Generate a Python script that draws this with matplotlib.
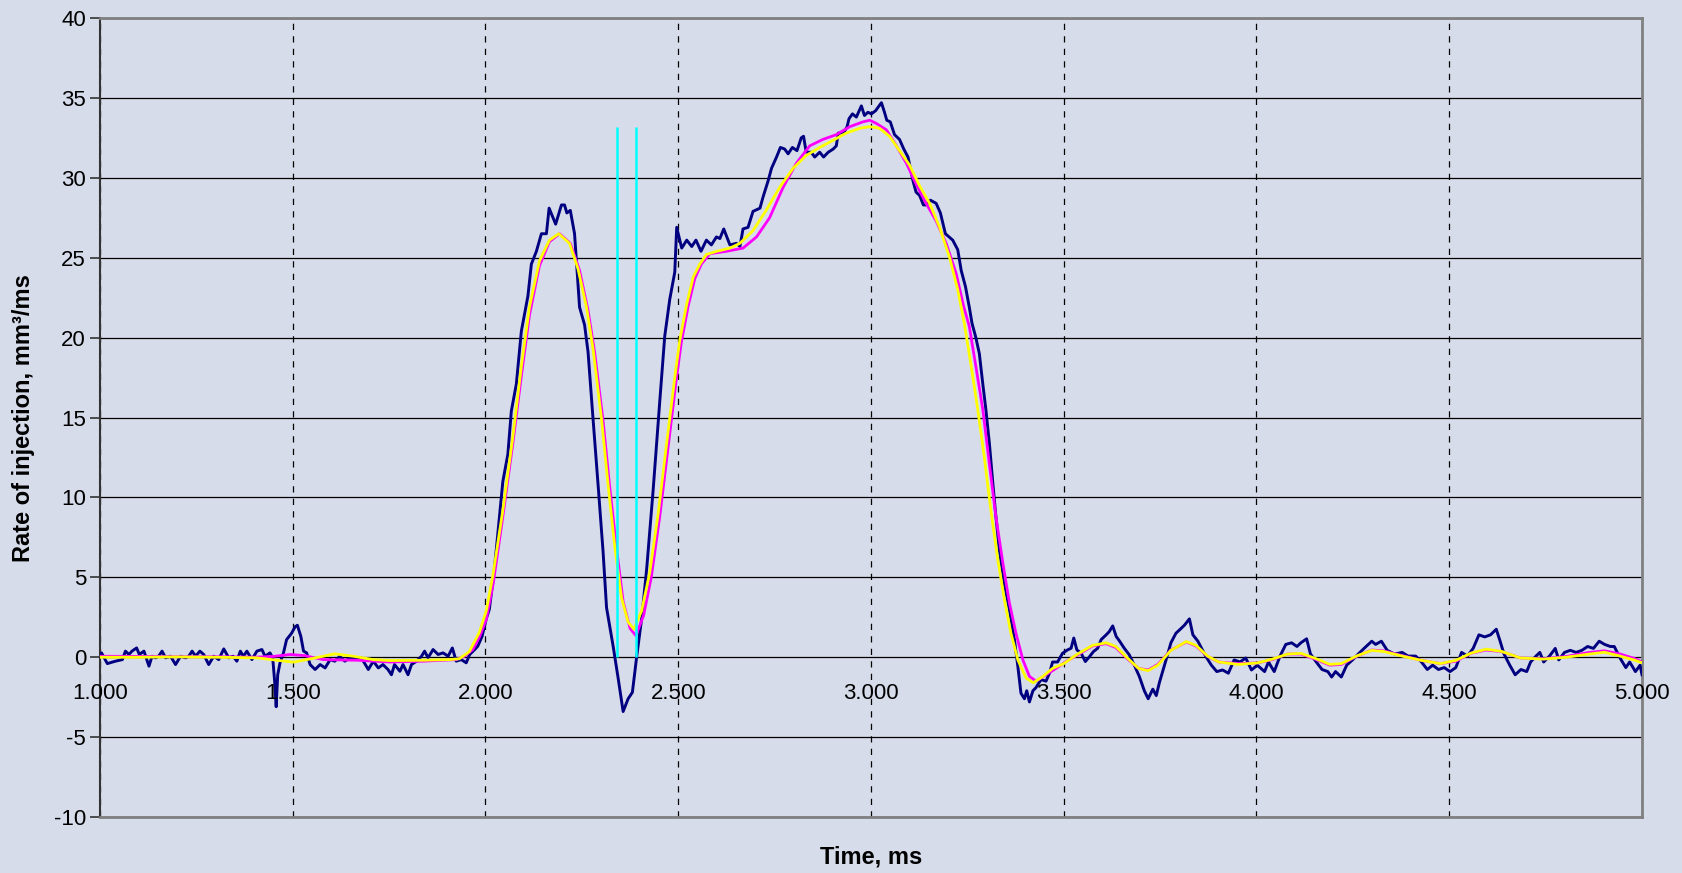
import matplotlib.pyplot as plt
from matplotlib.transforms import blended_transform_factory

plt.rcParams['font.family'] = ['Liberation Sans', 'DejaVu Sans']
plt.rcParams['axes.unicode_minus'] = False

# measured rate (navy)
meas_t = [1.000, 1.004, 1.019, 1.040, 1.058, 1.066, 1.075, 1.083, 1.095, 1.102, 1.114, 1.127, 1.135, 1.144,
          1.152, 1.161, 1.170, 1.183, 1.196, 1.209, 1.222, 1.230, 1.239, 1.248, 1.259, 1.269, 1.282, 1.295,
          1.308, 1.321, 1.334, 1.345, 1.355, 1.364, 1.372, 1.381, 1.394, 1.407, 1.420, 1.428, 1.441, 1.448,
          1.453, 1.457, 1.461, 1.467, 1.476, 1.484, 1.497, 1.506, 1.512, 1.521, 1.528, 1.536, 1.545, 1.558,
          1.571, 1.584, 1.597, 1.609, 1.622, 1.635, 1.648, 1.666, 1.678, 1.696, 1.709, 1.722, 1.734, 1.747,
          1.756, 1.764, 1.778, 1.786, 1.799, 1.808, 1.821, 1.834, 1.842, 1.851, 1.864, 1.877, 1.890, 1.903,
          1.914, 1.924, 1.937, 1.950, 1.959, 1.972, 1.980, 1.991, 2.002, 2.010, 2.023, 2.045, 2.058, 2.067,
          2.080, 2.093, 2.110, 2.119, 2.132, 2.145, 2.158, 2.165, 2.182, 2.197, 2.205, 2.211, 2.220, 2.231,
          2.244, 2.257, 2.266, 2.279, 2.292, 2.305, 2.314, 2.331, 2.344, 2.357, 2.370, 2.381, 2.392, 2.405,
          2.418, 2.435, 2.452, 2.465, 2.478, 2.491, 2.496, 2.509, 2.522, 2.535, 2.546, 2.559, 2.573, 2.586,
          2.599, 2.608, 2.618, 2.634, 2.651, 2.660, 2.668, 2.681, 2.694, 2.712, 2.720, 2.733, 2.742, 2.755,
          2.765, 2.776, 2.785, 2.796, 2.808, 2.819, 2.825, 2.832, 2.845, 2.854, 2.867, 2.877, 2.889, 2.902,
          2.910, 2.915, 2.929, 2.938, 2.943, 2.952, 2.962, 2.975, 2.983, 2.992, 3.001, 3.012, 3.027, 3.035,
          3.041, 3.050, 3.061, 3.074, 3.085, 3.096, 3.109, 3.117, 3.126, 3.136, 3.143, 3.154, 3.169, 3.180,
          3.193, 3.212, 3.225, 3.234, 3.245, 3.255, 3.262, 3.272, 3.281, 3.290, 3.298, 3.307, 3.316, 3.324,
          3.333, 3.346, 3.359, 3.372, 3.381, 3.389, 3.398, 3.404, 3.411, 3.420, 3.428, 3.441, 3.454, 3.463,
          3.471, 3.484, 3.497, 3.510, 3.519, 3.526, 3.534, 3.545, 3.556, 3.567, 3.577, 3.588, 3.597, 3.610,
          3.618, 3.627, 3.636, 3.645, 3.657, 3.670, 3.683, 3.696, 3.709, 3.719, 3.731, 3.740, 3.748, 3.765,
          3.778, 3.791, 3.800, 3.813, 3.826, 3.835, 3.848, 3.868, 3.883, 3.897, 3.912, 3.927, 3.942, 3.957,
          3.972, 3.987, 4.002, 4.021, 4.031, 4.046, 4.061, 4.076, 4.091, 4.105, 4.115, 4.130, 4.140, 4.155,
          4.170, 4.185, 4.195, 4.205, 4.220, 4.234, 4.249, 4.264, 4.279, 4.299, 4.309, 4.324, 4.339, 4.358,
          4.378, 4.393, 4.413, 4.428, 4.443, 4.457, 4.472, 4.487, 4.502, 4.517, 4.532, 4.547, 4.562, 4.577,
          4.592, 4.607, 4.622, 4.632, 4.642, 4.657, 4.671, 4.686, 4.701, 4.711, 4.725, 4.735, 4.745, 4.760,
          4.775, 4.784, 4.799, 4.814, 4.829, 4.844, 4.859, 4.874, 4.889, 4.903, 4.918, 4.928, 4.943, 4.958,
          4.968, 4.983, 4.995, 5.000]
meas_v = [0.17, 0.27, -0.40, -0.25, -0.15, 0.38, 0.17, 0.38, 0.58, 0.17, 0.38, -0.56, 0.06, -0.04,
          0.06, 0.38, -0.04, 0.06, -0.46, 0.06, -0.04, 0.06, 0.38, 0.06, 0.38, 0.17, -0.46, 0.06,
          -0.15, 0.52, -0.04, 0.06, -0.25, 0.38, 0.06, 0.38, -0.15, 0.38, 0.48, 0.06, 0.27, -0.04,
          -1.50, -3.10, -1.10, -0.35, 0.27, 1.10, 1.50, 1.90, 2.00, 1.30, 0.38, 0.27, -0.46, -0.77,
          -0.46, -0.67, -0.15, -0.25, 0.06, -0.25, -0.04, -0.15, -0.04, -0.77, -0.25, -0.67, -0.46, -0.77,
          -1.10, -0.46, -0.88, -0.46, -1.10, -0.46, -0.25, 0.06, 0.38, -0.04, 0.48, 0.17, 0.27, 0.06,
          0.58, -0.25, -0.15, -0.35, 0.17, 0.48, 0.69, 1.30, 2.40, 3.00, 5.50, 11.0, 12.7, 15.4,
          17.1, 20.4, 22.6, 24.6, 25.4, 26.5, 26.5, 28.1, 27.1, 28.3, 28.3, 27.8, 27.96, 26.5,
          21.9, 20.8, 19.1, 14.9, 10.8, 6.6, 3.1, 0.7, -1.3, -3.4, -2.6, -2.2, 0.0, 2.4,
          5.5, 10.5, 16.0, 20.1, 22.4, 24.1, 26.9, 25.6, 26.1, 25.7, 26.1, 25.4, 26.1, 25.8,
          26.3, 26.2, 26.8, 25.8, 25.9, 25.7, 26.8, 26.9, 27.9, 28.1, 28.8, 29.8, 30.6, 31.3,
          31.9, 31.8, 31.5, 31.9, 31.7, 32.5, 32.6, 31.6, 31.6, 31.3, 31.6, 31.3, 31.6, 31.8,
          32.0, 32.8, 32.8, 33.2, 33.7, 34.0, 33.8, 34.5, 33.9, 34.1, 34.0, 34.2, 34.7, 34.1,
          33.6, 33.5, 32.7, 32.4, 31.8, 31.3, 29.8, 29.1, 28.9, 28.3, 28.3, 28.6, 28.4, 27.8,
          26.5, 26.1, 25.5, 24.2, 23.2, 21.9, 20.9, 20.0, 19.0, 17.1, 15.5, 13.4, 10.9, 8.8,
          6.7, 4.6, 3.0, 1.1, -0.6, -2.25, -2.6, -2.1, -2.8, -2.1, -1.9, -1.4, -1.5, -1.0,
          -0.3, -0.3, 0.25, 0.46, 0.56, 1.2, 0.46, 0.25, -0.27, 0.04, 0.35, 0.56, 1.1, 1.4,
          1.6, 1.96, 1.3, 1.0, 0.56, 0.15, -0.5, -1.2, -2.1, -2.6, -2.0, -2.4, -1.6, -0.2,
          0.9, 1.5, 1.7, 2.0, 2.4, 1.4, 1.0, 0.07, -0.5, -0.9, -0.8, -1.0, -0.17, -0.3,
          -0.05, -0.8, -0.5, -0.9, -0.3, -0.9, 0.07, 0.8, 0.9, 0.67, 0.9, 1.15, 0.2, -0.3,
          -0.77, -0.9, -1.24, -0.9, -1.24, -0.5, -0.17, 0.2, 0.55, 1.0, 0.8, 1.0, 0.43, 0.2,
          0.3, 0.07, 0.07, -0.3, -0.77, -0.5, -0.77, -0.65, -0.9, -0.65, 0.3, 0.07, 0.55, 1.4,
          1.27, 1.4, 1.75, 1.0, 0.2, -0.5, -1.1, -0.77, -0.9, -0.3, 0.07, 0.3, -0.3, 0.07,
          0.55, -0.17, 0.3, 0.43, 0.3, 0.43, 0.67, 0.55, 1.0, 0.8, 0.67, 0.67, -0.05, -0.65,
          -0.3, -0.9, -0.5, -1.1]

# filtered rate 1 (magenta)
filt1_t = [1.000, 1.100, 1.200, 1.300, 1.400, 1.450, 1.493, 1.530, 1.579, 1.666, 1.752, 1.838, 1.924, 1.945,
           1.967, 1.985, 2.002, 2.020, 2.045, 2.071, 2.093, 2.114, 2.140, 2.166, 2.192, 2.220, 2.244, 2.266,
           2.283, 2.305, 2.322, 2.340, 2.357, 2.375, 2.390, 2.410, 2.430, 2.452, 2.474, 2.495, 2.508, 2.526,
           2.543, 2.560, 2.582, 2.625, 2.668, 2.703, 2.737, 2.772, 2.806, 2.841, 2.875, 2.910, 2.945, 2.979,
           2.997, 3.014, 3.040, 3.066, 3.092, 3.117, 3.143, 3.169, 3.195, 3.221, 3.240, 3.255, 3.272, 3.290,
           3.307, 3.324, 3.342, 3.359, 3.376, 3.394, 3.411, 3.428, 3.454, 3.480, 3.506, 3.540, 3.575, 3.610,
           3.635, 3.665, 3.694, 3.719, 3.744, 3.778, 3.818, 3.843, 3.873, 3.902, 3.952, 4.002, 4.041, 4.081,
           4.115, 4.150, 4.190, 4.220, 4.259, 4.299, 4.329, 4.378, 4.428, 4.477, 4.517, 4.557, 4.596, 4.636,
           4.685, 4.745, 4.804, 4.864, 4.903, 4.943, 4.983, 5.000]
filt1_v = [0.06, 0.05, 0.03, 0.03, 0.0, 0.05, 0.17, 0.10, -0.15, -0.19, -0.30, -0.25, -0.15, 0.05,
           0.48, 1.3, 2.36, 4.6, 8.8, 13.4, 17.6, 21.4, 24.5, 26.0, 26.5, 25.9, 24.2, 21.7,
           19.1, 14.8, 10.7, 6.8, 3.5, 1.8, 1.35, 2.6, 5.0, 8.8, 13.2, 17.4, 19.7, 22.0,
           23.7, 24.6, 25.25, 25.4, 25.6, 26.3, 27.5, 29.4, 30.9, 32.0, 32.4, 32.7, 33.2, 33.5,
           33.6, 33.4, 33.0, 32.0, 30.9, 29.6, 28.4, 27.3, 25.9, 24.0, 22.0, 20.7, 18.2, 15.5,
           12.1, 8.8, 5.9, 3.4, 1.5, -0.17, -1.2, -1.5, -1.1, -0.7, -0.27, 0.2, 0.7, 0.85,
           0.6, -0.1, -0.7, -0.8, -0.45, 0.45, 0.95, 0.7, 0.05, -0.3, -0.4, -0.36, -0.15, 0.2,
           0.2, -0.1, -0.5, -0.45, 0.05, 0.45, 0.4, 0.1, -0.2, -0.4, -0.25, 0.25, 0.45, 0.35,
           -0.05, -0.1, 0.05, 0.3, 0.4, 0.2, -0.1, -0.3]

# filtered rate 2 (yellow)
filt2_t = [1.000, 1.100, 1.200, 1.300, 1.407, 1.459, 1.502, 1.536, 1.579, 1.609, 1.657, 1.709, 1.752, 1.838,
           1.906, 1.932, 1.958, 1.984, 2.002, 2.019, 2.045, 2.071, 2.093, 2.114, 2.140, 2.166, 2.190, 2.218,
           2.240, 2.262, 2.279, 2.301, 2.318, 2.335, 2.353, 2.370, 2.385, 2.405, 2.426, 2.448, 2.470, 2.491,
           2.504, 2.522, 2.539, 2.556, 2.573, 2.600, 2.634, 2.660, 2.694, 2.729, 2.763, 2.798, 2.832, 2.867,
           2.902, 2.936, 2.971, 2.997, 3.022, 3.048, 3.074, 3.100, 3.126, 3.152, 3.178, 3.204, 3.225, 3.242,
           3.260, 3.277, 3.294, 3.312, 3.329, 3.346, 3.363, 3.381, 3.402, 3.421, 3.446, 3.471, 3.500, 3.536,
           3.575, 3.610, 3.635, 3.665, 3.694, 3.719, 3.744, 3.778, 3.818, 3.843, 3.873, 3.902, 3.952, 4.002,
           4.041, 4.081, 4.115, 4.150, 4.190, 4.220, 4.259, 4.299, 4.329, 4.378, 4.428, 4.477, 4.517, 4.557,
           4.596, 4.636, 4.685, 4.745, 4.804, 4.864, 4.903, 4.943, 4.983, 5.000]
filt2_v = [0.00, 0.00, 0.02, 0.00, -0.04, -0.19, -0.31, -0.15, 0.06, 0.21, 0.06, -0.15, -0.21, -0.19,
           -0.15, -0.10, 0.35, 1.55, 2.9, 5.1, 9.2, 13.8, 18.2, 21.9, 24.8, 26.1, 26.5, 25.9,
           24.3, 21.9, 19.3, 14.9, 10.8, 7.0, 3.7, 2.2, 1.75, 2.9, 5.3, 9.0, 13.4, 17.5,
           19.85, 22.1, 23.8, 24.6, 25.2, 25.4, 25.6, 25.9, 26.7, 28.0, 29.4, 30.6, 31.4, 31.9,
           32.35, 32.8, 33.1, 33.2, 33.1, 32.6, 31.7, 30.8, 29.5, 28.4, 26.9, 25.0, 23.0, 20.9,
           18.2, 15.5, 12.5, 9.0, 6.1, 3.6, 1.5, -0.17, -1.3, -1.6, -1.2, -0.7, -0.4, 0.2,
           0.74, 0.9, 0.67, -0.05, -0.7, -0.84, -0.5, 0.43, 0.98, 0.74, 0.07, -0.3, -0.45, -0.36,
           -0.12, 0.2, 0.24, -0.05, -0.45, -0.4, 0.07, 0.43, 0.36, 0.07, -0.2, -0.4, -0.2, 0.26,
           0.5, 0.36, -0.05, -0.12, 0.0, 0.2, 0.31, 0.07, -0.2, -0.35]

# dwell markers (cyan)
marker_t = [2.341, 2.390]
marker_top = 33.2

xtick_pos = [1.0, 1.5, 2.0, 2.5, 3.0, 3.5, 4.0, 4.5, 5.0]
xtick_lbl = ['1.000', '1.500', '2.000', '2.500', '3.000', '3.500', '4.000', '4.500', '5.000']
ytick_pos = [-10, -5, 0, 5, 10, 15, 20, 25, 30, 35, 40]

bg = '#D6DCEA'
fig = plt.figure(figsize=(16.83, 8.73), dpi=100, facecolor=bg)
ax = fig.add_axes([100 / 1683, 1 - 817 / 873, 1542 / 1683, 799 / 873])
ax.set_facecolor(bg)

ax.plot(meas_t, meas_v, color='#000080', lw=2.1, zorder=3, solid_joinstyle='round')
ax.plot(filt1_t, filt1_v, color='#FF00FF', lw=2.0, zorder=4, solid_joinstyle='round')
ax.plot(filt2_t, filt2_v, color='#FFFF00', lw=2.0, zorder=5, solid_joinstyle='round')
ax.vlines(marker_t, 0, marker_top, color='#00FFFF', lw=1.8, zorder=6)

ax.set_xlim(1.0, 5.0)
ax.set_ylim(-10, 40)
ax.set_xticks(xtick_pos)
ax.set_xticklabels([])
ax.set_yticks(ytick_pos)
ax.tick_params(axis='x', length=0)
ax.tick_params(axis='y', length=7, width=1.2, color='#333333', labelsize=16, pad=3)

ax.yaxis.grid(True, color='black', lw=0.9)
ax.xaxis.grid(True, color='black', lw=0.9, linestyle=(0, (5, 5)))
ax.set_axisbelow(True)

for side in ['top', 'right', 'bottom']:
    ax.spines[side].set_color('#808080')
    ax.spines[side].set_linewidth(2)
ax.spines['left'].set_color('#333333')
ax.spines['left'].set_linewidth(1.5)

# x tick labels sit just under the zero line
trans = blended_transform_factory(ax.transData, ax.transData)
for pos, lbl in zip(xtick_pos, xtick_lbl):
    ax.annotate(lbl, xy=(pos, 0), xycoords=trans, xytext=(0, -30), textcoords='offset points',
                ha='center', va='baseline', fontsize=16, zorder=7)

fig.text(24 / 1683, 1 - 418 / 873, 'Rate of injection, mm³/ms', rotation=90, ha='center', va='center',
         fontsize=17, fontweight='bold')
fig.text(871 / 1683, 1 - 857 / 873, 'Time, ms', ha='center', va='center', fontsize=17, fontweight='bold')

fig.savefig('out.png', dpi=100, facecolor=bg)
